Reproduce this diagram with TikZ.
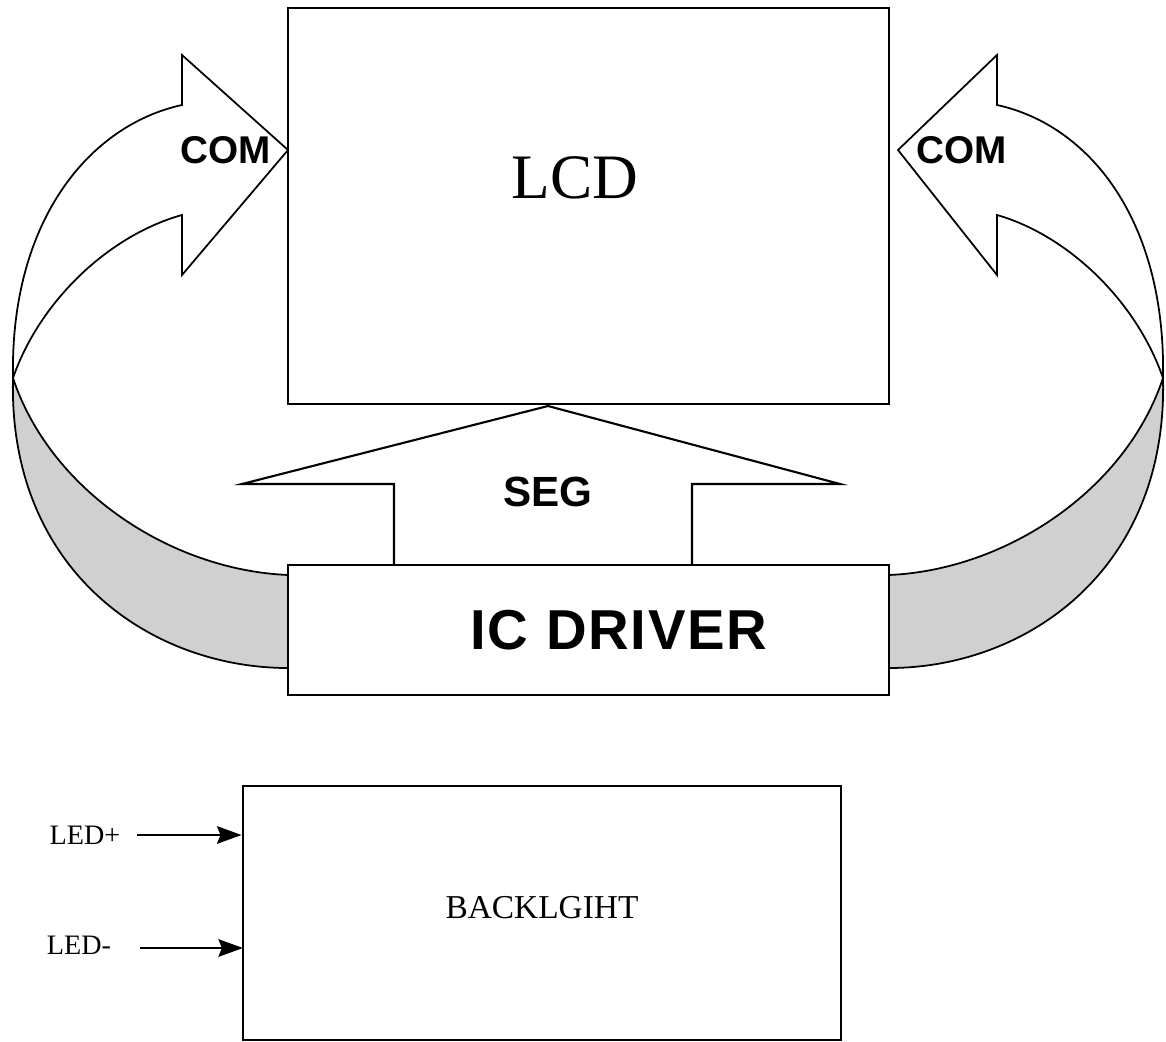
\documentclass[tikz,border=0pt]{standalone}
\usepackage{fontspec}
\setmainfont{Liberation Serif}
\setsansfont{Liberation Sans}
\usepackage{xcolor}
\usetikzlibrary{arrows.meta}

\definecolor{bandgray}{RGB}{208,208,208}

\tikzset{
	box/.style={draw, line width=0.7pt, inner sep=0pt},
	flow/.style={draw, line width=0.5pt, fill=white},
	band/.style={fill=bandgray},
	bandline/.style={line width=0.5pt},
	tag/.style={font=\sffamily\bfseries\fontsize{11}{12}\selectfont},
	pin/.style={line width=0.6pt, -{Stealth[length=7pt, width=5pt, inset=1pt]}}
}

\begin{document}
\begin{tikzpicture}[x=0.01cm, y=-0.01cm]
	\useasboundingbox (0,0) rectangle (1166,1042);

	% grey sides of the COM ribbons
	\fill[band] (13,378) .. controls (50,490) and (170,570) .. (288,575) -- (288,668)
		.. controls (150,668) and (8,570) .. (13,378);
	\draw[bandline] (13,378) .. controls (50,490) and (170,570) .. (288,575);
	\draw[bandline] (13,378) .. controls (8,570) and (150,668) .. (288,668);

	\fill[band] (1163,378) .. controls (1126,490) and (1006,570) .. (889,575) -- (889,668)
		.. controls (1026,668) and (1168,570) .. (1163,378);
	\draw[bandline] (1163,378) .. controls (1126,490) and (1006,570) .. (889,575);
	\draw[bandline] (1163,378) .. controls (1168,570) and (1026,668) .. (889,668);

	% COM arrows
	\draw[flow] (13,378) .. controls (10,220) and (90,125) .. (182,105) -- (182,55) -- (288,150)
		-- (182,275) -- (182,215) .. controls (110,235) and (40,300) .. (13,378);
	\draw[flow] (1163,378) .. controls (1166,220) and (1089,125) .. (997,105) -- (997,55) -- (898,150)
		-- (997,275) -- (997,215) .. controls (1067,235) and (1136,300) .. (1163,378);
	\node[tag] (comleft) at (226,150) {COM};
	\node[tag] (comright) at (962,150) {COM};

	% SEG arrow
	\coordinate (segtip) at (548,406);
	\draw[flow, line width=0.6pt] (394,565) -- (394,484) -- (242,484) -- (segtip) -- (840,484) -- (692,484) -- (692,565);
	\node[tag, font=\sffamily\bfseries\fontsize{12}{13}\selectfont] (seglabel) at (548,492) {SEG};

	% boxes
	\node[box, minimum width=6.01cm, minimum height=3.96cm] (lcd) at (588.5,206) {};
	\node[font=\fontsize{18}{20}\selectfont] (lcdlabel) at (575,178) {LCD};

	\node[box, fill=white, minimum width=6.01cm, minimum height=1.30cm] (icdrv) at (588.5,630) {};
	\node[font=\sffamily\bfseries\fontsize{16}{18}\selectfont] (iclabel) at (619,630)
		{I\kern.5pt C\kern.5pt\ D\kern.5pt R\kern.5pt I\kern.5pt V\kern.5pt E\kern.5pt R};

	\node[box, minimum width=5.98cm, minimum height=2.54cm] (backlight) at (542,913) {};
	\node[font=\fontsize{9.5}{11}\selectfont] (bllabel) at (542,908) {BACKLGIHT};

	% backlight pins
	\node[font=\fontsize{8}{9}\selectfont] (ledplus) at (85,835) {LED+};
	\node[font=\fontsize{8}{9}\selectfont] (ledminus) at (79,945) {LED-};
	\draw[pin] (137,835) -- (ledplus -| backlight.west);
	\draw[pin] (140,948) -- (243,948);
\end{tikzpicture}
\end{document}
